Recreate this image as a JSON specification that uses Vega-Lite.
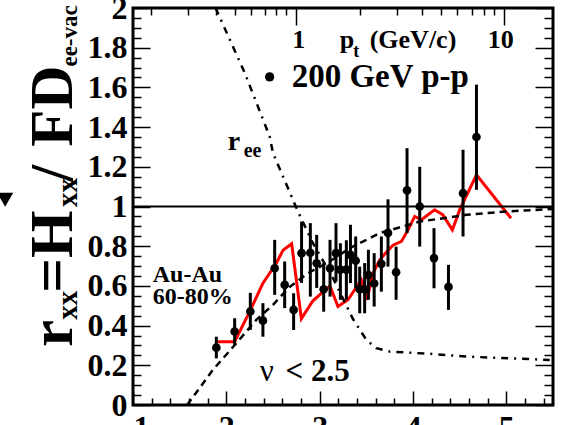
{
  "$schema": "https://vega.github.io/schema/vega-lite/v6.json",
  "autosize": {"type": "none"},
  "padding": {"left": 133, "top": 8, "right": 19, "bottom": 20},
  "width": 420,
  "height": 397,
  "background": "white",
  "config": {
    "view": {"stroke": "black", "strokeWidth": 3},
    "axis": {
      "domain": false,
      "grid": false,
      "title": null,
      "zindex": 1,
      "ticks": true,
      "tickColor": "#000000",
      "tickOpacity": 1,
      "tickWidth": 1.5,
      "labelColor": "black",
      "labelFont": "Liberation Serif",
      "labelFontWeight": "bold",
      "labelFontSize": 32
    },
    "text": {"font": "Liberation Serif", "fontWeight": "bold", "color": "black"}
  },
  "datasets": {
    "pp": [
      {"x": 1.893, "y": 0.289, "lo": 0.235, "hi": 0.344},
      {"x": 2.089, "y": 0.370, "lo": 0.303, "hi": 0.437},
      {"x": 2.257, "y": 0.471, "lo": 0.378, "hi": 0.565},
      {"x": 2.392, "y": 0.425, "lo": 0.344, "hi": 0.513},
      {"x": 2.518, "y": 0.689, "lo": 0.555, "hi": 0.832},
      {"x": 2.625, "y": 0.605, "lo": 0.488, "hi": 0.723},
      {"x": 2.721, "y": 0.479, "lo": 0.378, "hi": 0.563},
      {"x": 2.806, "y": 0.765, "lo": 0.615, "hi": 0.924},
      {"x": 2.900, "y": 0.767, "lo": 0.546, "hi": 0.916},
      {"x": 2.968, "y": 0.714, "lo": 0.590, "hi": 0.857},
      {"x": 3.043, "y": 0.583, "lo": 0.470, "hi": 0.715},
      {"x": 3.111, "y": 0.689, "lo": 0.546, "hi": 0.832},
      {"x": 3.175, "y": 0.765, "lo": 0.622, "hi": 0.916},
      {"x": 3.222, "y": 0.682, "lo": 0.530, "hi": 0.815},
      {"x": 3.286, "y": 0.682, "lo": 0.530, "hi": 0.830},
      {"x": 3.330, "y": 0.756, "lo": 0.614, "hi": 0.908},
      {"x": 3.386, "y": 0.727, "lo": 0.588, "hi": 0.849},
      {"x": 3.429, "y": 0.583, "lo": 0.462, "hi": 0.697},
      {"x": 3.482, "y": 0.583, "lo": 0.462, "hi": 0.715},
      {"x": 3.522, "y": 0.654, "lo": 0.530, "hi": 0.782},
      {"x": 3.584, "y": 0.612, "lo": 0.496, "hi": 0.765},
      {"x": 3.661, "y": 0.711, "lo": 0.571, "hi": 0.849},
      {"x": 3.732, "y": 0.867, "lo": 0.697, "hi": 1.036},
      {"x": 3.819, "y": 0.669, "lo": 0.530, "hi": 0.798},
      {"x": 3.936, "y": 1.081, "lo": 0.866, "hi": 1.294},
      {"x": 4.072, "y": 1.000, "lo": 0.798, "hi": 1.200},
      {"x": 4.225, "y": 0.740, "lo": 0.588, "hi": 0.891},
      {"x": 4.380, "y": 0.595, "lo": 0.479, "hi": 0.706},
      {"x": 4.536, "y": 1.067, "lo": 0.849, "hi": 1.286},
      {"x": 4.680, "y": 1.350, "lo": 1.084, "hi": 1.614}
    ],
    "auau": [
      {"x": 1.893, "y": 0.319}, {"x": 2.089, "y": 0.319}, {"x": 2.250, "y": 0.470},
      {"x": 2.392, "y": 0.614}, {"x": 2.536, "y": 0.714}, {"x": 2.607, "y": 0.780},
      {"x": 2.700, "y": 0.812}, {"x": 2.804, "y": 0.435}, {"x": 2.928, "y": 0.525},
      {"x": 3.036, "y": 0.570}, {"x": 3.110, "y": 0.600}, {"x": 3.196, "y": 0.496},
      {"x": 3.304, "y": 0.530}, {"x": 3.393, "y": 0.593}, {"x": 3.446, "y": 0.630},
      {"x": 3.507, "y": 0.530}, {"x": 3.571, "y": 0.664}, {"x": 3.643, "y": 0.730},
      {"x": 3.714, "y": 0.770}, {"x": 3.786, "y": 0.805}, {"x": 3.876, "y": 0.824},
      {"x": 3.946, "y": 0.882}, {"x": 4.018, "y": 0.950}, {"x": 4.090, "y": 0.933},
      {"x": 4.232, "y": 0.983}, {"x": 4.320, "y": 0.958}, {"x": 4.422, "y": 0.882},
      {"x": 4.500, "y": 0.983}, {"x": 4.680, "y": 1.160}, {"x": 5.050, "y": 0.941}
    ],
    "model": [
      {"x": 1.580, "y": 0.000}, {"x": 1.856, "y": 0.177}, {"x": 2.107, "y": 0.311},
      {"x": 2.321, "y": 0.429}, {"x": 2.500, "y": 0.505}, {"x": 2.678, "y": 0.595},
      {"x": 2.875, "y": 0.664}, {"x": 3.107, "y": 0.723}, {"x": 3.322, "y": 0.790},
      {"x": 3.429, "y": 0.815}, {"x": 3.643, "y": 0.866}, {"x": 4.072, "y": 0.924},
      {"x": 4.572, "y": 0.958}, {"x": 5.000, "y": 0.975}, {"x": 5.500, "y": 0.987}
    ],
    "ree": [
      {"x": 1.885, "y": 2.000}, {"x": 2.200, "y": 1.670}, {"x": 2.464, "y": 1.353},
      {"x": 2.500, "y": 1.269}, {"x": 2.767, "y": 0.975}, {"x": 2.928, "y": 0.815},
      {"x": 3.143, "y": 0.639}, {"x": 3.357, "y": 0.433}, {"x": 3.500, "y": 0.328},
      {"x": 3.607, "y": 0.286}, {"x": 3.750, "y": 0.269}, {"x": 4.214, "y": 0.257},
      {"x": 4.572, "y": 0.244}, {"x": 5.465, "y": 0.227}
    ]
  },
  "resolve": {"axis": {"x": "independent", "y": "independent"}},
  "layer": [
    {
      "data": {"name": "auau"},
      "mark": {"type": "line", "color": "#ff0000", "strokeWidth": 3},
      "encoding": {
        "x": {
          "field": "x", "type": "quantitative",
          "scale": {"domain": [1, 5.5], "nice": false, "zero": false},
          "axis": {
            "orient": "top",
            "labels": false,
            "values": [1.196, 1.589, 1.894, 2.09, 2.268, 2.41, 2.536, 2.643, 2.75, 3.43, 3.83, 4.1, 4.3, 4.47, 4.63, 4.76, 4.87, 4.98],
            "tickSize": {"condition": {"test": "datum.value == 2.75 || datum.value == 4.98", "value": -17}, "value": -7}
          }
        },
        "y": {
          "field": "y", "type": "quantitative",
          "scale": {"domain": [0, 2], "nice": false, "zero": false},
          "axis": {
            "orient": "right",
            "labels": false,
            "values": [0, 0.05, 0.1, 0.15, 0.2, 0.25, 0.3, 0.35, 0.4, 0.45, 0.5, 0.55, 0.6, 0.65, 0.7, 0.75, 0.8, 0.85, 0.9, 0.95, 1, 1.05, 1.1, 1.15, 1.2, 1.25, 1.3, 1.35, 1.4, 1.45, 1.5, 1.55, 1.6, 1.65, 1.7, 1.75, 1.8, 1.85, 1.9, 1.95, 2],
            "tickSize": {"condition": {"test": "abs(datum.value * 5 - round(datum.value * 5)) < 0.000001", "value": -18}, "value": -9}
          }
        }
      }
    },
    {
      "data": {"name": "model"},
      "mark": {"type": "line", "color": "black", "strokeWidth": 2.5, "strokeDash": [7, 5]},
      "encoding": {
        "x": {"field": "x", "type": "quantitative", "axis": null},
        "y": {"field": "y", "type": "quantitative", "axis": null}
      }
    },
    {
      "data": {"name": "ree"},
      "mark": {"type": "line", "color": "black", "strokeWidth": 2.5, "strokeDash": [7, 6, 2, 6]},
      "encoding": {
        "x": {"field": "x", "type": "quantitative", "axis": null},
        "y": {"field": "y", "type": "quantitative", "axis": null}
      }
    },
    {
      "data": {"values": [{"y": 1}]},
      "mark": {"type": "rule", "color": "black", "strokeWidth": 2},
      "encoding": {
        "y": {"field": "y", "type": "quantitative", "axis": null}
      }
    },
    {
      "data": {"name": "pp"},
      "mark": {"type": "rule", "color": "black", "strokeWidth": 3},
      "encoding": {
        "x": {"field": "x", "type": "quantitative", "axis": null},
        "y": {"field": "lo", "type": "quantitative", "axis": null},
        "y2": {"field": "hi"}
      }
    },
    {
      "data": {"name": "pp"},
      "mark": {"type": "point", "filled": true, "color": "black", "opacity": 1, "size": 75},
      "encoding": {
        "x": {
          "field": "x", "type": "quantitative",
          "axis": {
            "orient": "bottom",
            "values": [1, 1.2, 1.4, 1.6, 1.8, 2, 2.2, 2.4, 2.6, 2.8, 3, 3.2, 3.4, 3.6, 3.8, 4, 4.2, 4.4, 4.6, 4.8, 5, 5.2, 5.4],
            "tickSize": {"condition": {"test": "datum.value == round(datum.value)", "value": -14}, "value": -7},
            "labelExpr": "datum.value == round(datum.value) ? format(datum.value, 'd') : ''",
            "labelPadding": 21,
            "labelBaseline": "top"
          }
        },
        "y": {
          "field": "y", "type": "quantitative",
          "axis": {
            "orient": "left",
            "values": [0, 0.05, 0.1, 0.15, 0.2, 0.25, 0.3, 0.35, 0.4, 0.45, 0.5, 0.55, 0.6, 0.65, 0.7, 0.75, 0.8, 0.85, 0.9, 0.95, 1, 1.05, 1.1, 1.15, 1.2, 1.25, 1.3, 1.35, 1.4, 1.45, 1.5, 1.55, 1.6, 1.65, 1.7, 1.75, 1.8, 1.85, 1.9, 1.95, 2],
            "tickSize": {"condition": {"test": "abs(datum.value * 5 - round(datum.value * 5)) < 0.000001", "value": -17}, "value": -8},
            "labelExpr": "abs(datum.value * 5 - round(datum.value * 5)) < 0.000001 ? format(datum.value, '~g') : ''",
            "labelPadding": 23,
            "labelBaseline": "middle"
          }
        }
      }
    },
    {
      "data": {"values": [{"x": 2.464, "y": 1.653}]},
      "mark": {"type": "point", "filled": true, "color": "black", "opacity": 1, "size": 85},
      "encoding": {
        "x": {"field": "x", "type": "quantitative", "axis": null},
        "y": {"field": "y", "type": "quantitative", "axis": null}
      }
    },
    {
      "data": {"values": [{"x": -0.37, "y": 1.034}]},
      "mark": {"type": "point", "shape": "triangle-down", "filled": true, "color": "black", "opacity": 1, "size": 260},
      "encoding": {
        "x": {"field": "x", "type": "quantitative", "axis": null},
        "y": {"field": "y", "type": "quantitative", "axis": null}
      }
    },
    {
      "data": {"values": [{"x": 2.70, "y": 1.654, "t": "200 GeV p-p"}]},
      "mark": {"type": "text", "fontSize": 33, "align": "left", "baseline": "middle"},
      "encoding": {
        "x": {"field": "x", "type": "quantitative", "axis": null},
        "y": {"field": "y", "type": "quantitative", "axis": null},
        "text": {"field": "t"}
      }
    },
    {
      "data": {"values": [
        {"x": 2.775, "y": 1.797, "t": "1"},
        {"x": 4.94, "y": 1.797, "t": "10"}
      ]},
      "mark": {"type": "text", "fontSize": 26, "align": "center", "baseline": "alphabetic"},
      "encoding": {
        "x": {"field": "x", "type": "quantitative", "axis": null},
        "y": {"field": "y", "type": "quantitative", "axis": null},
        "text": {"field": "t"}
      }
    },
    {
      "data": {"values": [
        {"x": 3.214, "y": 1.797, "t": "p"},
        {"x": 3.536, "y": 1.797, "t": "(GeV/c)"}
      ]},
      "mark": {"type": "text", "fontSize": 26, "align": "left", "baseline": "alphabetic"},
      "encoding": {
        "x": {"field": "x", "type": "quantitative", "axis": null},
        "y": {"field": "y", "type": "quantitative", "axis": null},
        "text": {"field": "t"}
      }
    },
    {
      "data": {"values": [{"x": 3.36, "y": 1.755, "t": "t"}]},
      "mark": {"type": "text", "fontSize": 18, "align": "left", "baseline": "alphabetic"},
      "encoding": {
        "x": {"field": "x", "type": "quantitative", "axis": null},
        "y": {"field": "y", "type": "quantitative", "axis": null},
        "text": {"field": "t"}
      }
    },
    {
      "data": {"values": [{"x": 2.014, "y": 1.286, "t": "r"}]},
      "mark": {"type": "text", "fontSize": 28, "align": "left", "baseline": "alphabetic"},
      "encoding": {
        "x": {"field": "x", "type": "quantitative", "axis": null},
        "y": {"field": "y", "type": "quantitative", "axis": null},
        "text": {"field": "t"}
      }
    },
    {
      "data": {"values": [{"x": 2.186, "y": 1.251, "t": "ee"}]},
      "mark": {"type": "text", "fontSize": 20, "align": "left", "baseline": "alphabetic"},
      "encoding": {
        "x": {"field": "x", "type": "quantitative", "axis": null},
        "y": {"field": "y", "type": "quantitative", "axis": null},
        "text": {"field": "t"}
      }
    },
    {
      "data": {"values": [
        {"x": 1.212, "y": 0.656, "t": "Au-Au"},
        {"x": 1.212, "y": 0.545, "t": "60-80%"}
      ]},
      "mark": {"type": "text", "fontSize": 24, "align": "left", "baseline": "middle"},
      "encoding": {
        "x": {"field": "x", "type": "quantitative", "axis": null},
        "y": {"field": "y", "type": "quantitative", "axis": null},
        "text": {"field": "t"}
      }
    },
    {
      "data": {"values": [{"x": 2.357, "y": 0.166, "t": "ν"}]},
      "mark": {"type": "text", "fontSize": 31, "fontWeight": "normal", "align": "left", "baseline": "middle"},
      "encoding": {
        "x": {"field": "x", "type": "quantitative", "axis": null},
        "y": {"field": "y", "type": "quantitative", "axis": null},
        "text": {"field": "t"}
      }
    },
    {
      "data": {"values": [{"x": 2.635, "y": 0.166, "t": "< 2.5"}]},
      "mark": {"type": "text", "fontSize": 31, "align": "left", "baseline": "middle"},
      "encoding": {
        "x": {"field": "x", "type": "quantitative", "axis": null},
        "y": {"field": "y", "type": "quantitative", "axis": null},
        "text": {"field": "t"}
      }
    },
    {
      "data": {"values": [
        {"x": 0.342, "y": 0.2925, "t": "r"},
        {"x": 0.342, "y": 0.565, "t": "=H"},
        {"x": 0.342, "y": 1.125, "t": "/"},
        {"x": 0.342, "y": 1.301, "t": "FD"}
      ]},
      "mark": {"type": "text", "fontSize": 61, "angle": 270, "align": "left", "baseline": "alphabetic"},
      "encoding": {
        "x": {"field": "x", "type": "quantitative", "axis": null},
        "y": {"field": "y", "type": "quantitative", "axis": null},
        "text": {"field": "t"}
      }
    },
    {
      "data": {"values": [
        {"x": 0.405, "y": 0.429, "t": "xx"},
        {"x": 0.405, "y": 0.998, "t": "xx"}
      ]},
      "mark": {"type": "text", "fontSize": 29, "angle": 270, "align": "left", "baseline": "alphabetic"},
      "encoding": {
        "x": {"field": "x", "type": "quantitative", "axis": null},
        "y": {"field": "y", "type": "quantitative", "axis": null},
        "text": {"field": "t"}
      }
    },
    {
      "data": {"values": [{"x": 0.405, "y": 1.705, "t": "ee-vac"}]},
      "mark": {"type": "text", "fontSize": 23, "angle": 270, "align": "left", "baseline": "alphabetic"},
      "encoding": {
        "x": {"field": "x", "type": "quantitative", "axis": null},
        "y": {"field": "y", "type": "quantitative", "axis": null},
        "text": {"field": "t"}
      }
    }
  ]
}
